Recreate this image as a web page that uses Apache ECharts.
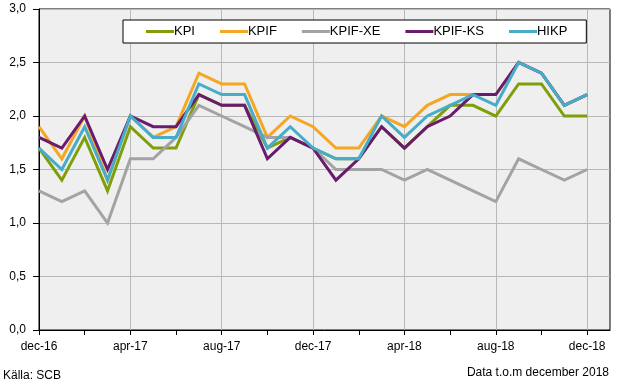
<!DOCTYPE html>
<html><head><meta charset="utf-8">
<script src="https://cdn.jsdelivr.net/npm/echarts@6/dist/echarts.min.js"></script>
<style>html,body{margin:0;padding:0;background:#fff}#c{width:638px;height:387px}</style>
</head><body><div id="c"></div>
<script>
const months = ['dec-16','jan-17','feb-17','mar-17','apr-17','maj-17','jun-17','jul-17','aug-17','sep-17','okt-17','nov-17','dec-17',
  'jan-18','feb-18','mar-18','apr-18','maj-18','jun-18','jul-18','aug-18','sep-18','okt-18','nov-18','dec-18',''];
const KPI    = [1.7,1.4,1.8,1.3,1.9,1.7,1.7,2.2,2.1,2.1,1.7,1.8,1.7, 1.6,1.6,1.9,1.7,1.9,2.1,2.1,2.0,2.3,2.3,2.0,2.0];
const KPIF   = [1.9,1.6,2.0,1.4,2.0,1.8,1.9,2.4,2.3,2.3,1.8,2.0,1.9, 1.7,1.7,2.0,1.9,2.1,2.2,2.2,2.2,2.5,2.4,2.1,2.2];
const KPIFXE = [1.3,1.2,1.3,1.0,1.6,1.6,1.8,2.1,2.0,1.9,1.8,1.8,1.7, 1.5,1.5,1.5,1.4,1.5,1.4,1.3,1.2,1.6,1.5,1.4,1.5];
const KPIFKS = [1.8,1.7,2.0,1.5,2.0,1.9,1.9,2.2,2.1,2.1,1.6,1.8,1.7, 1.4,1.6,1.9,1.7,1.9,2.0,2.2,2.2,2.5,2.4,2.1,2.2];
const HIKP   = [1.7,1.5,1.9,1.4,2.0,1.8,1.8,2.3,2.2,2.2,1.7,1.9,1.7, 1.6,1.6,2.0,1.8,2.0,2.1,2.2,2.1,2.5,2.4,2.1,2.2];
const seriesNames = ['KPI','KPIF','KPIF-XE','KPIF-KS','HIKP'];
const seriesData = [KPI, KPIF, KPIFXE, KPIFKS, HIKP];
const colors = ['#7F9F0A','#F5A623','#A3A3A3','#6A1B6E','#46ACC8'];
const font = 'Liberation Sans, Arial, sans-serif';

const chart = echarts.init(document.getElementById('c'), null, {renderer:'canvas'});
chart.setOption({
  animation: false,
  color: colors,
  grid: {left:39, top:9, right:28, bottom:57, show:true, backgroundColor:'#EFEFEF', borderColor:'#000', borderWidth:1},
  legend: {
    left:123, top:20, orient:'horizontal',
    backgroundColor:'#fff', borderColor:'#000', borderWidth:1,
    padding:[5,19,5,23], itemGap:25, itemWidth:28, itemHeight:3, icon:'rect',
    textStyle:{fontFamily:font, fontSize:13, color:'#000', padding:[0,0,0,-5]},
    data: seriesNames
  },
  xAxis: {
    type:'category', data:months, boundaryGap:false,
    axisLine:{lineStyle:{color:'#000', width:1}},
    axisTick:{interval:(i)=>i%2===0, length:5, lineStyle:{color:'#000'}},
    axisLabel:{interval:(i)=>i%4===0, margin:11, fontFamily:font, fontSize:12, color:'#000'},
    splitLine:{show:true, interval:(i)=>i%4===0 && i>0, lineStyle:{color:'#B8B8B8', width:1}}
  },
  yAxis: {
    type:'value', min:0, max:3, interval:0.5,
    axisLine:{show:true, lineStyle:{color:'#000', width:1}},
    axisTick:{show:true, length:6, lineStyle:{color:'#000'}},
    axisLabel:{margin:13, fontFamily:font, fontSize:12, color:'#000', formatter:(v)=>v.toFixed(1).replace('.',',')},
    splitLine:{show:true, lineStyle:{color:'#B8B8B8', width:1}}
  },
  series: seriesNames.map((n,i)=>({
    name:n, type:'line', data:seriesData[i], symbol:'none', showSymbol:false,
    lineStyle:{width:3, color:colors[i], join:'miter'}, itemStyle:{color:colors[i]}, z:2+i
  })),
  graphic: [
    {type:'text', left:3, top:370, style:{text:'Källa: SCB', font:'12px '+font, fill:'#000'}},
    {type:'text', right:29, top:367, style:{text:'Data t.o.m december 2018', font:'12px '+font, fill:'#000'}}
  ]
});
</script></body></html>
